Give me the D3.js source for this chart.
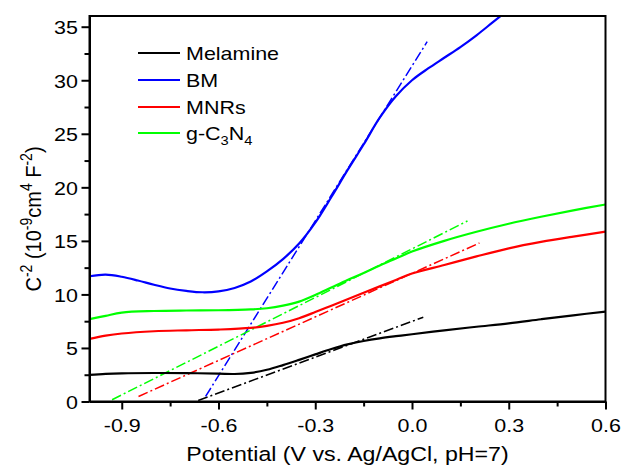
<!DOCTYPE html>
<html>
<head>
<meta charset="utf-8">
<script src="https://cdn.jsdelivr.net/npm/d3@7"></script>
<style>
  html, body { margin: 0; padding: 0; background: #fff; }
  svg { display: block; font-family: "Liberation Sans", Arial, sans-serif; }
</style>
</head>
<body>
<svg id="chart" width="624" height="468"></svg>
<script>
// Mott–Schottky data: [potential (V vs. Ag/AgCl), C^-2 (10^-9 cm^4 F^-2)]
const seriesNames = ["Melamine", "BM", "MNRs", "g-C3N4"];
const seriesColors = ["#000000", "#0000ff", "#ff0000", "#00ff00"];

const melamine = [[-1.0,2.49],[-0.95,2.58],[-0.9,2.63],[-0.8,2.66],[-0.7,2.65],[-0.6,2.6],[-0.55,2.57],
  [-0.5,2.68],[-0.45,2.96],[-0.4,3.4],[-0.35,3.89],[-0.3,4.4],[-0.25,4.9],[-0.2,5.33],[-0.15,5.65],
  [-0.1,5.9],[-0.05,6.1],[0,6.28],[0.1,6.65],[0.2,6.98],[0.3,7.3],[0.4,7.68],[0.5,8.05],[0.6,8.4]];

const bm = [[-1.0,11.7],[-0.95,11.85],[-0.9,11.65],[-0.85,11.3],[-0.8,10.9],[-0.75,10.55],[-0.7,10.33],
  [-0.65,10.2],[-0.6,10.28],[-0.55,10.6],[-0.5,11.2],[-0.45,12.15],[-0.4,13.3],[-0.35,14.75],
  [-0.3,16.7],[-0.25,19.1],[-0.2,21.6],[-0.15,24.0],[-0.1,26.5],[-0.05,28.5],[0,30.0],[0.05,31.1],
  [0.1,32.1],[0.15,33.1],[0.2,34.2],[0.25,35.4],[0.3,36.6]];

const mnrs = [[-1.0,5.85],[-0.95,6.15],[-0.9,6.35],[-0.8,6.56],[-0.7,6.65],[-0.6,6.72],[-0.5,6.87],
  [-0.45,7.06],[-0.4,7.35],[-0.35,7.78],[-0.3,8.35],[-0.25,8.95],[-0.2,9.55],[-0.15,10.15],[-0.1,10.75],
  [-0.05,11.35],[0,11.95],[0.1,12.75],[0.2,13.55],[0.3,14.3],[0.4,14.9],[0.5,15.4],[0.6,15.86]];

const gcn = [[-1.0,7.69],[-0.95,8.0],[-0.9,8.3],[-0.8,8.45],[-0.7,8.5],[-0.6,8.52],[-0.5,8.6],
  [-0.45,8.71],[-0.4,8.95],[-0.35,9.33],[-0.3,9.95],[-0.25,10.65],[-0.2,11.35],[-0.15,12.0],[-0.1,12.7],
  [-0.05,13.35],[0,14.0],[0.1,15.0],[0.2,15.85],[0.3,16.6],[0.4,17.25],[0.5,17.85],[0.6,18.4]];

// linear fits extrapolated to the flat-band potential (dash-dot)
const melamineFit = [[-0.663,0.1],[0.035,7.87]];
const bmFit = [[-0.64,0.47],[0.047,33.6]];
const mnrsFit = [[-0.848,0.47],[0.209,14.8]];
const gcnFit = [[-0.93,0.16],[0.172,16.86]];

const xMajorTicks = [-0.9,-0.6,-0.3,0.0,0.3,0.6];
const xMinorTicks = [-0.75,-0.45,-0.15,0.15,0.45];
const yMajorTicks = [0,5,10,15,20,25,30,35];
const yMinorTicks = [2.5,7.5,12.5,17.5,22.5,27.5,32.5];

const curves = [melamine, bm, mnrs, gcn];
const fits = [melamineFit, bmFit, mnrsFit, gcnFit];

const svg = d3.select("#chart");
const m = { left: 89.5, right: 605.5, top: 16, bottom: 401.5 };
const sx = 1.13; // horizontal glyph stretch

const x = d3.scaleLinear().domain([-1.0, 0.6]).range([m.left, m.right]);
const y = d3.scaleLinear().domain([0, 36]).range([m.bottom, m.top]);

svg.append("defs").append("clipPath").attr("id", "plotclip")
  .append("rect").attr("x", m.left).attr("y", m.top)
  .attr("width", m.right - m.left).attr("height", m.bottom - m.top);

const plot = svg.append("g").attr("clip-path", "url(#plotclip)");
const line = d3.line().x(d => x(d[0])).y(d => y(d[1])).curve(d3.curveCatmullRom.alpha(0.5));
const straight = d3.line().x(d => x(d[0])).y(d => y(d[1]));

// fitted tangents
fits.forEach((f, i) => {
  plot.append("path").attr("d", straight(f))
    .attr("fill", "none").attr("stroke", seriesColors[i])
    .attr("stroke-width", 1.5).attr("stroke-dasharray", "10,3,2,3");
});
// measured curves
curves.forEach((c, i) => {
  plot.append("path").attr("d", line(c))
    .attr("fill", "none").attr("stroke", seriesColors[i])
    .attr("stroke-width", 2.2).attr("stroke-linejoin", "round");
});

// frame
svg.append("rect").attr("x", m.left).attr("y", m.top)
  .attr("width", m.right - m.left).attr("height", m.bottom - m.top)
  .attr("fill", "none").attr("stroke", "#000").attr("stroke-width", 2);

// axes
const fmtX = d => d3.format(".1f")(d).replace("−", "-");
const xAxis = svg.append("g").attr("transform", `translate(0,${m.bottom})`)
  .call(d3.axisBottom(x).tickValues(xMajorTicks).tickFormat(fmtX).tickSize(8).tickSizeOuter(0));
svg.append("g").attr("transform", `translate(0,${m.bottom})`)
  .call(d3.axisBottom(x).tickValues(xMinorTicks).tickFormat("").tickSize(5).tickSizeOuter(0))
  .call(g => g.select(".domain").remove());
const yAxis = svg.append("g").attr("transform", `translate(${m.left},0)`)
  .call(d3.axisLeft(y).tickValues(yMajorTicks).tickFormat(d3.format("d")).tickSize(8).tickSizeOuter(0));
svg.append("g").attr("transform", `translate(${m.left},0)`)
  .call(d3.axisLeft(y).tickValues(yMinorTicks).tickFormat("").tickSize(5).tickSizeOuter(0))
  .call(g => g.select(".domain").remove());

svg.selectAll(".tick line").attr("stroke", "#000").attr("stroke-width", 2);
svg.selectAll(".domain").attr("stroke", "#000").attr("stroke-width", 2);

xAxis.selectAll(".tick text")
  .attr("y", null).attr("dy", null)
  .attr("font-size", 19).attr("fill", "#000")
  .attr("font-family", "Liberation Sans, Arial, sans-serif")
  .attr("transform", `translate(0,30.5) scale(${sx},1)`);
yAxis.selectAll(".tick text")
  .attr("x", null).attr("dy", null)
  .attr("font-size", 19).attr("fill", "#000")
  .attr("font-family", "Liberation Sans, Arial, sans-serif")
  .attr("transform", `translate(-11.5,6.8) scale(${sx},1)`);

// axis titles
svg.append("text")
  .attr("transform", `translate(${(m.left + m.right) / 2},461) scale(${sx},1)`)
  .attr("text-anchor", "middle").attr("font-size", 20.5).attr("fill", "#000")
  .text("Potential (V vs. Ag/AgCl, pH=7)");

const yt = svg.append("text")
  .attr("transform", `translate(41,219) scale(${sx},1) rotate(-90)`)
  .attr("text-anchor", "middle").attr("font-size", 20).attr("fill", "#000");
const sup = (t) => { yt.append("tspan").attr("font-size", 14).attr("dy", -8).text(t); };
const base = (t) => { yt.append("tspan").attr("font-size", 20).attr("dy", 8).text(t); };
yt.append("tspan").text("C");
sup("-2");
base(" (");
yt.append("tspan").text("10");
sup("-9");
base("cm");
sup("4");
base(" F");
sup("-2");
base(")");

// legend
const legendY = [53, 80, 107, 133];
seriesNames.forEach((name, i) => {
  svg.append("line")
    .attr("x1", 138).attr("x2", 180).attr("y1", legendY[i]).attr("y2", legendY[i])
    .attr("stroke", seriesColors[i]).attr("stroke-width", 2.2);
  const t = svg.append("text")
    .attr("transform", `translate(186,${legendY[i] + 7}) scale(${sx},1)`)
    .attr("font-size", 19).attr("fill", "#000");
  if (name === "g-C3N4") {
    t.append("tspan").text("g-C");
    t.append("tspan").attr("font-size", 13).attr("dy", 5).text("3");
    t.append("tspan").attr("dy", -5).text("N");
    t.append("tspan").attr("font-size", 13).attr("dy", 5).text("4");
  } else {
    t.text(name);
  }
});
</script>
</body>
</html>
